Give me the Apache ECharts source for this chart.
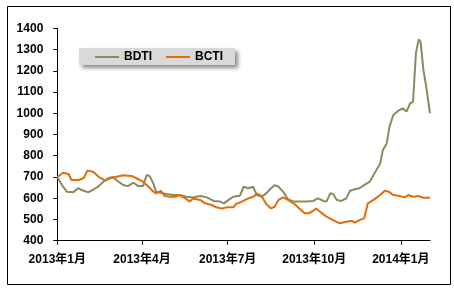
<!DOCTYPE html>
<html>
<head>
<meta charset="utf-8">
<script src="https://cdn.jsdelivr.net/npm/echarts@6/dist/echarts.min.js"></script>
<style>html,body{margin:0;padding:0;background:#fff}#c{width:454px;height:290px}</style>
</head>
<body>
<div id="c"></div>
<script>
// Day offsets from 2013-01-01
const bdtiDays = [0,5,10,17,22,28,33,38,44,49,54,59,65,70,75,81,86,91,95,98,102,105,109,116,123,130,137,144,152,159,166,173,177,182,187,194,198,203,208,212,217,222,226,231,235,240,245,251,258,265,272,277,283,286,290,293,297,302,307,311,316,321,326,332,337,343,346,350,353,357,362,367,371,375,378,381,384,386,389,392,396];
const bdtiValues = [700,662,631,628,647,635,628,640,657,678,694,700,678,662,657,673,657,657,709,705,670,631,626,620,615,615,607,604,610,604,587,584,576,592,607,612,654,647,654,615,607,623,642,662,654,631,595,584,584,584,587,599,587,584,623,620,592,587,599,635,642,647,662,678,717,764,827,858,937,992,1011,1023,1008,1047,1055,1282,1348,1337,1204,1125,1000];
const bctiDays = [0,6,12,15,22,28,32,38,44,51,56,63,70,79,84,91,97,102,105,110,114,120,125,130,136,141,144,152,157,164,169,175,180,187,190,196,203,208,213,217,222,227,231,235,240,245,251,258,263,267,272,275,279,286,293,300,307,313,316,321,326,330,336,343,348,352,357,364,369,373,378,384,389,396];
const bctiValues = [700,720,714,686,686,694,730,725,701,683,694,701,708,705,694,678,654,631,623,635,610,607,607,615,599,584,599,592,576,568,557,552,557,557,573,584,599,607,620,610,573,552,560,592,604,592,576,548,529,529,541,552,537,513,497,482,489,494,485,497,505,576,592,615,635,631,615,610,604,615,607,610,602,602];
const tickDays = [0,90,181,273,365];
const tickLabels = ['2013年1月','2013年4月','2013年7月','2013年10月','2014年1月'];
const seriesNames = ['BDTI','BCTI'];
const colors = ['#8c8a5c','#e36c0a'];

const zip = (d, v) => d.map((x, i) => [x, v[i]]);
const font = {fontFamily:'Liberation Sans, Arial, "Noto Sans CJK SC", sans-serif', fontWeight:'bold', fontSize:12, color:'#000'};

const chart = echarts.init(document.getElementById('c'), null, {renderer:'canvas'});
chart.setOption({
  animation:false,
  backgroundColor:'#fff',
  color: colors,
  grid:{left:57.3, top:28.3, right:24, bottom:49.3, containLabel:false},
  legend:{
    left:79, top:48, padding:[3,12,2,16], itemGap:14,
    itemWidth:24, itemHeight:2, icon:'rect',
    backgroundColor:'#d9d9d9', shadowBlur:4, shadowOffsetX:3, shadowOffsetY:3, shadowColor:'rgba(0,0,0,0.45)',
    textStyle:Object.assign({}, font, {lineHeight:12}),
    data: seriesNames
  },
  xAxis:{
    type:'value', min:0, max:396,
    splitLine:{show:false},
    axisLine:{lineStyle:{color:'#000', width:1}},
    axisTick:{show:true, length:4, lineStyle:{color:'#000'}, customValues:tickDays},
    axisLabel:Object.assign({}, font, {margin:13, customValues:tickDays,
      formatter:(v)=>{const i=tickDays.indexOf(Math.round(v)); return i>=0?tickLabels[i]:'';}})
  },
  yAxis:{
    type:'value', min:400, max:1400, interval:100,
    splitLine:{show:false},
    axisLine:{show:true, lineStyle:{color:'#000', width:1}},
    axisTick:{show:true, length:4, lineStyle:{color:'#000'}},
    axisLabel:Object.assign({}, font, {margin:14, formatter:(v)=>String(v)})
  },
  graphic:[{type:'rect', shape:{x:7.5, y:6.5, width:443, height:278}, style:{fill:'none', stroke:'#000', lineWidth:1}, silent:true, z:-1}],
  series:[
    {name:seriesNames[0], type:'line', data:zip(bdtiDays,bdtiValues), showSymbol:false, lineStyle:{width:2, color:colors[0]}, itemStyle:{color:colors[0]}},
    {name:seriesNames[1], type:'line', data:zip(bctiDays,bctiValues), showSymbol:false, lineStyle:{width:2, color:colors[1]}, itemStyle:{color:colors[1]}}
  ]
});
</script>
</body>
</html>
